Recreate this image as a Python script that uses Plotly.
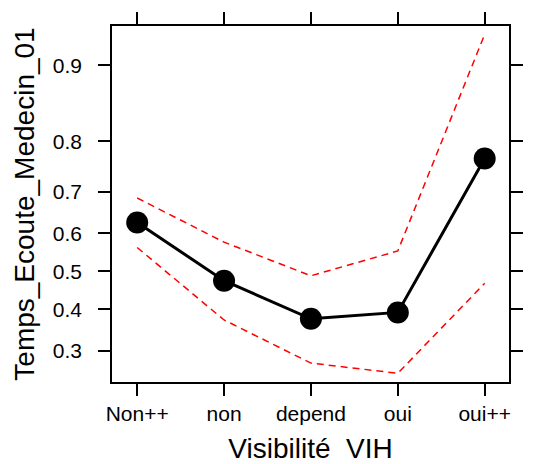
import numpy as np
import plotly.graph_objects as go

categories = ["Non++", "non", "depend", "oui", "oui++"]
fit = [0.627, 0.475, 0.376, 0.392, 0.769]
upper = [0.686, 0.577, 0.488, 0.554, 0.926]
lower = [0.563, 0.373, 0.273, 0.252, 0.468]
tick_labels = [0.3, 0.4, 0.5, 0.6, 0.7, 0.8, 0.9]

def logit(p):
    p = np.asarray(p, dtype=float)
    return np.log(p / (1 - p))

x = list(range(len(categories)))

fig = go.Figure()
fig.add_trace(go.Scatter(x=x, y=logit(upper), mode="lines",
                         line=dict(color="red", width=1.5, dash="7px,5px"), showlegend=False))
fig.add_trace(go.Scatter(x=x, y=logit(lower), mode="lines",
                         line=dict(color="red", width=1.5, dash="7px,5px"), showlegend=False))
fig.add_trace(go.Scatter(x=x, y=logit(fit), mode="lines+markers",
                         line=dict(color="black", width=3),
                         marker=dict(color="black", size=22), showlegend=False))

axis_common = dict(showgrid=False, zeroline=False, showline=True, linecolor="black",
                   linewidth=1.5, mirror="allticks", ticks="outside", ticklen=12,
                   tickwidth=1.5, tickcolor="black", automargin=False)

fig.update_layout(
    width=537, height=464,
    margin=dict(l=112, r=28, t=26, b=82),
    paper_bgcolor="white", plot_bgcolor="white",
    font=dict(family="Liberation Sans, Arial, sans-serif", color="black"),
    xaxis=dict(**axis_common, range=[-0.29, 4.28], tickmode="array", tickvals=x,
               ticktext=categories, tickfont=dict(size=21),
               title=dict(text="Visibilité  VIH", font=dict(size=28), standoff=17)),
    yaxis=dict(**axis_common, range=[-1.181, 2.616], tickmode="array",
               tickvals=list(logit(tick_labels)), ticktext=[str(t) for t in tick_labels],
               tickfont=dict(size=21), ticklabelstandoff=12,
               title=dict(text="Temps_Ecoute_Medecin_01", font=dict(size=28), standoff=10)),
)

fig.write_html("out.html")
